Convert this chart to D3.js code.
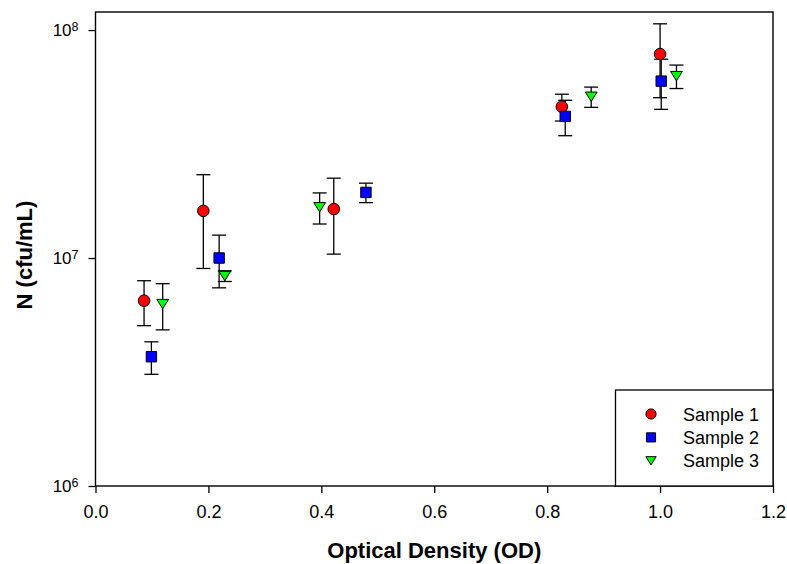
<!DOCTYPE html>
<html>
<head>
<meta charset="utf-8">
<script src="https://cdn.jsdelivr.net/npm/d3@7"></script>
<style>
  html, body { margin: 0; padding: 0; background: #fff; }
  svg { display: block; font-family: "Liberation Sans", Arial, sans-serif; }
</style>
</head>
<body>
<svg id="chart" width="787" height="564"></svg>
<script>
// Optical density readings and plate counts (mean ± SD) per sample
const sampleNames = ["Sample 1", "Sample 2", "Sample 3"];
const sampleColors = ["#ff0000", "#0000ff", "#00ff00"];
const sampleShapes = ["circle", "square", "triangleDown"];

const od1 = [0.086, 0.191, 0.422, 0.826, 1.000];
const n1  = [6.5e6, 1.61e7, 1.64e7, 4.61e7, 7.85e7];
const sd1 = [1.45e6, 7.1e6, 6.0e6, 6.2e6, 2.8e7];

const od2 = [0.099, 0.219, 0.479, 0.832, 1.002];
const n2  = [3.69e6, 1.0e7, 1.94e7, 4.18e7, 5.97e7];
const sd2 = [0.6e6, 2.6e6, 1.9e6, 7.4e6, 1.48e7];

const od3 = [0.119, 0.229, 0.397, 0.878, 1.029];
const n3  = [6.28e6, 8.34e6, 1.67e7, 5.10e7, 6.28e7];
const sd3 = [1.44e6, 0.45e6, 2.6e6, 5.2e6, 7.4e6];

const xTicks = [0, 0.2, 0.4, 0.6, 0.8, 1.0, 1.2];
const yTicks = [1e6, 1e7, 1e8];
const xTitle = "Optical Density (OD)";
const yTitle = "N (cfu/mL)";

const series = [
  { od: od1, n: n1, sd: sd1 },
  { od: od2, n: n2, sd: sd2 },
  { od: od3, n: n3, sd: sd3 }
].map((s, i) => ({
  name: sampleNames[i], color: sampleColors[i], shape: sampleShapes[i],
  points: s.od.map((x, j) => ({ x, n: s.n[j], sd: s.sd[j] }))
}));

const svg = d3.select("#chart");
const plotLeft = 95.5, plotRight = 773, plotTop = 12, plotBottom = 486;

const x = d3.scaleLinear().domain([0, 1.2]).range([plotLeft, plotRight]);
const y = d3.scaleLog().domain([1e6, 1.2e8]).range([plotBottom, plotTop]);

// marker shapes
function markerPath(shape, cx, cy, scale) {
  const k = scale || 1;
  if (shape === "square") {
    const h = 5.2 * k;
    return `M${cx - h},${cy - h}H${cx + h}V${cy + h}H${cx - h}Z`;
  }
  if (shape === "triangleDown") {
    const w = 5.9 * k, h = 4.7 * k;
    return `M${cx - w},${cy - h}H${cx + w}L${cx},${cy + h}Z`;
  }
  const r = 5.8 * k;
  return `M${cx - r},${cy}A${r},${r} 0 1,0 ${cx + r},${cy}A${r},${r} 0 1,0 ${cx - r},${cy}Z`;
}

// axes
const xAxis = d3.axisBottom(x).tickValues(xTicks).tickFormat(d3.format(".1f"))
  .tickSize(7).tickSizeOuter(0).tickPadding(12);
const gx = svg.append("g").attr("transform", `translate(0,${plotBottom})`).call(xAxis);
gx.select(".domain").remove();
gx.selectAll(".tick line").attr("stroke", "#000").attr("stroke-width", 1.3);
gx.selectAll(".tick text").attr("font-size", 18).attr("fill", "#000");

const yAxis = d3.axisLeft(y).tickValues(yTicks).tickSize(7).tickSizeOuter(0).tickPadding(10)
  .tickFormat(() => "");
const gy = svg.append("g").attr("transform", `translate(${plotLeft},0)`).call(yAxis);
gy.select(".domain").remove();
gy.selectAll(".tick line").attr("stroke", "#000").attr("stroke-width", 1.3);
gy.selectAll(".tick text")
  .attr("font-size", 17).attr("fill", "#000")
  .each(function (d) {
    const t = d3.select(this);
    t.append("tspan").text("10");
    t.append("tspan").attr("font-size", 12.5).attr("dy", "-5").text(Math.round(Math.log10(d)));
  });

// plot frame
svg.append("rect")
  .attr("x", plotLeft).attr("y", plotTop)
  .attr("width", plotRight - plotLeft).attr("height", plotBottom - plotTop)
  .attr("fill", "none").attr("stroke", "#000").attr("stroke-width", 1.4);

// error bars and markers
const capHalf = 7;
series.forEach(s => {
  const g = svg.append("g");
  const eb = g.selectAll("g.err").data(s.points).join("g").attr("class", "err")
    .attr("stroke", "#000").attr("stroke-width", 1.3);
  eb.append("line")
    .attr("x1", d => x(d.x)).attr("x2", d => x(d.x))
    .attr("y1", d => y(d.n + d.sd)).attr("y2", d => y(d.n - d.sd));
  eb.append("line")
    .attr("x1", d => x(d.x) - capHalf).attr("x2", d => x(d.x) + capHalf)
    .attr("y1", d => y(d.n + d.sd)).attr("y2", d => y(d.n + d.sd));
  eb.append("line")
    .attr("x1", d => x(d.x) - capHalf).attr("x2", d => x(d.x) + capHalf)
    .attr("y1", d => y(d.n - d.sd)).attr("y2", d => y(d.n - d.sd));
});
series.forEach(s => {
  svg.append("g").selectAll("path").data(s.points).join("path")
    .attr("d", d => markerPath(s.shape, x(d.x), y(d.n)))
    .attr("fill", s.color).attr("stroke", "#000").attr("stroke-width", 1);
});

// legend
const lg = svg.append("g");
lg.append("rect")
  .attr("x", 615.5).attr("y", 390).attr("width", plotRight - 615.5).attr("height", plotBottom - 390)
  .attr("fill", "#fff").attr("stroke", "#000").attr("stroke-width", 1.3);
series.forEach((s, i) => {
  const cy = 414 + i * 23.4;
  lg.append("path").attr("d", markerPath(s.shape, 651, cy, 0.88))
    .attr("fill", s.color).attr("stroke", "#000").attr("stroke-width", 1);
  lg.append("text").attr("x", 683).attr("y", cy + 6.5)
    .attr("font-size", 18).attr("fill", "#000").text(s.name);
});

// axis titles
svg.append("text")
  .attr("x", (plotLeft + plotRight) / 2).attr("y", 558)
  .attr("text-anchor", "middle").attr("font-size", 22).attr("font-weight", "bold")
  .text(xTitle);
svg.append("text")
  .attr("transform", `translate(32,${(plotTop + plotBottom) / 2 + 6}) rotate(-90)`)
  .attr("text-anchor", "middle").attr("font-size", 22).attr("font-weight", "bold")
  .text(yTitle);
</script>
</body>
</html>
